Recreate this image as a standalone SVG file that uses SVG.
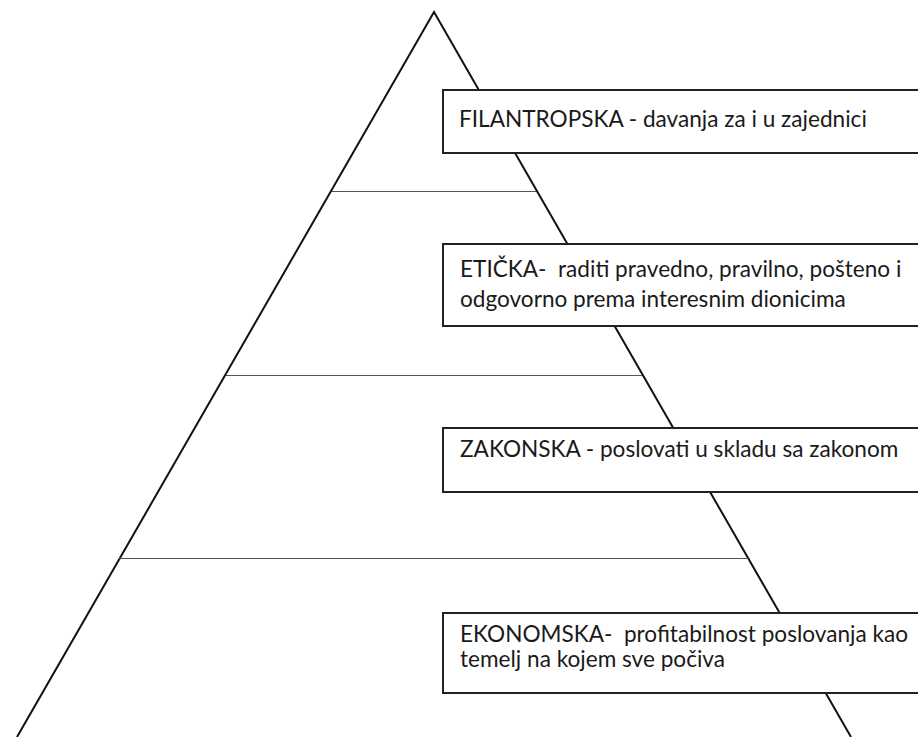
<svg xmlns="http://www.w3.org/2000/svg" width="918" height="737" viewBox="0 0 918 737">
<style>
.pyr{fill:none;stroke:#111;stroke-width:2}
.div{stroke:#555;stroke-width:1.2}
.box{fill:#fff;stroke:#222;stroke-width:2}
.t{font-family:Lato,"Open Sans",sans-serif;font-size:22.6px;fill:#1a1a1a}
</style>
<rect width="918" height="737" fill="#fff"/>
<g id="pyramid">
<polyline class="pyr" points="17,737 434,12 851,737"/>
</g>
<g id="connectors">
<line class="div" x1="332" y1="191.5" x2="536" y2="191.5"/>
<line class="div" x1="226" y1="375.5" x2="642" y2="375.5"/>
<line class="div" x1="119" y1="558.5" x2="750" y2="558.5"/>
</g>
<g id="filantropska">
<path class="box" d="M920,90 H443 V153 H920"/>
<text class="t" x="459" y="127">FILANTROPSKA - davanja za i u zajednici</text>
</g>
<g id="eticka">
<path class="box" d="M920,244 H443 V326 H920"/>
<text class="t" x="460" y="277" xml:space="preserve">ETIČKA-  raditi pravedno, pravilno, pošteno i</text>
<text class="t" x="460" y="307">odgovorno prema interesnim dionicima</text>
</g>
<g id="zakonska">
<path class="box" d="M920,428 H443 V492 H920"/>
<text class="t" x="460" y="457">ZAKONSKA - poslovati u skladu sa zakonom</text>
</g>
<g id="ekonomska">
<path class="box" d="M920,613 H443 V693 H920"/>
<text class="t" x="460" y="642" xml:space="preserve">EKONOMSKA-  profitabilnost poslovanja kao</text>
<text class="t" x="460" y="667">temelj na kojem sve počiva</text>
</g>
</svg>
